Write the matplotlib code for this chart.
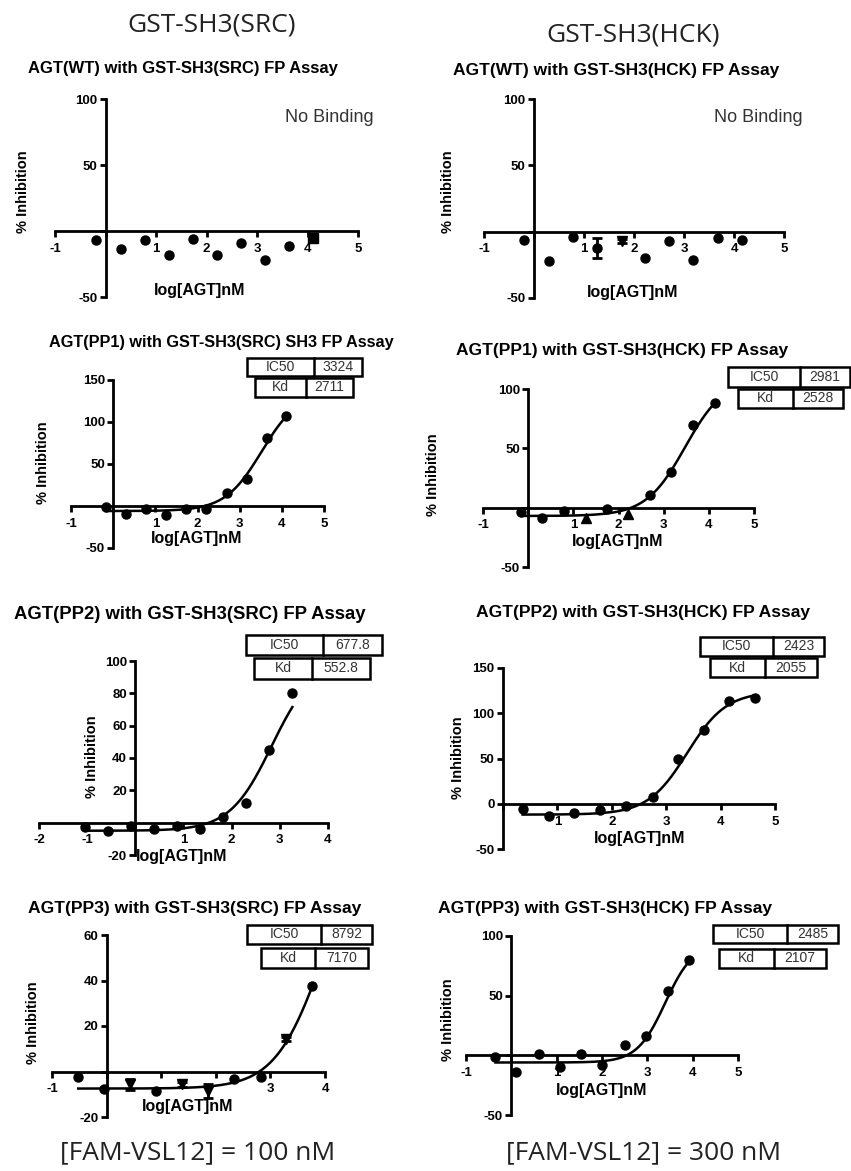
import numpy as np
import matplotlib.pyplot as plt
from matplotlib.patches import Rectangle

plt.rcParams['font.family'] = ['Liberation Sans', 'DejaVu Sans']

W, H = 851, 1171

# x = log[AGT] nM, y = % inhibition ; marker codes per point, error bars per point
wt_src_x = [-0.18, 0.30, 0.78, 1.25, 1.73, 2.21, 2.68, 3.16, 3.64, 4.10]
wt_src_y = [-7, -14, -7, -18, -6, -18, -9, -22, -11.5, -5]
wt_src_mk = 'ooooooooos'
wt_src_err = [0, 0, 0, 0, 0, 0, 0, 0, 0, 2.5]

wt_hck_x = [-0.20, 0.29, 0.78, 1.25, 1.75, 2.21, 2.70, 3.18, 3.67, 4.15]
wt_hck_y = [-6, -22, -4, -12, -7, -20, -7, -21, -5, -6]
wt_hck_mk = 'ooooVooooo'
wt_hck_err = [0, 0, 0, 7.5, 1.5, 0, 0, 0, 0, 0]

pp1_src_x = [-0.17, 0.30, 0.77, 1.25, 1.73, 2.20, 2.69, 3.17, 3.64, 4.10]
pp1_src_y = [-1, -10, -3, -11, -3, -4, 15, 32, 81, 107]
pp1_src_mk = 'oooooooooo'

pp1_hck_x = [-0.15, 0.31, 0.79, 1.27, 1.75, 2.22, 2.69, 3.17, 3.65, 4.13]
pp1_hck_y = [-4, -9, -3, -9, -1.5, -5, 11, 30, 70, 88]
pp1_hck_mk = 'ooo^o^oooo'

pp2_src_x = [-1.04, -0.56, -0.08, 0.39, 0.87, 1.35, 1.82, 2.30, 2.78, 3.26]
pp2_src_y = [-2.7, -5.4, -2.3, -3.7, -2.3, -3.7, 3.5, 12, 45, 80]
pp2_src_mk = 'oooooooooo'

pp2_hck_x = [0.36, 0.84, 1.31, 1.79, 2.27, 2.75, 3.21, 3.69, 4.16, 4.64]
pp2_hck_y = [-6, -13, -10, -7, -3, 7, 49, 82, 113, 117]
pp2_hck_mk = 'oooooooooo'

pp3_src_x = [-0.52, -0.04, 0.43, 0.91, 1.39, 1.86, 2.34, 2.82, 3.29, 3.77]
pp3_src_y = [-2.6, -7.5, -5.6, -8.5, -5.6, -8.5, -3.4, -2.4, 14.3, 37.8]
pp3_src_mk = 'ooVoVVooVo'
pp3_src_err = [0, 0, 2.5, 0, 1.2, 3, 0, 0, 1, 0]

pp3_hck_x = [-0.35, 0.10, 0.60, 1.07, 1.54, 2.01, 2.50, 2.97, 3.46, 3.93]
pp3_hck_y = [-1, -14, 1, -10, 1.5, -8, 8.5, 16, 54, 80]
pp3_hck_mk = 'oooooooooo'

# box values (nM) and fit shape (bottom, top, hill)
ic50_vals = ['3324', '2981', '677.8', '2423', '8792', '2485']
kd_vals = ['2711', '2528', '552.8', '2055', '7170', '2107']
fit_bottom = [-6, -7, -5, -12, -7.5, -6]
fit_top = [136, 109, 100, 124, 105, 94]
fit_hill = [1.0, 1.0, 1.0, 1.2, 1.0, 1.4]

titles = ['AGT(WT) with GST-SH3(SRC) FP Assay',
          'AGT(WT) with GST-SH3(HCK) FP Assay',
          'AGT(PP1) with GST-SH3(SRC) SH3 FP Assay',
          'AGT(PP1) with GST-SH3(HCK) FP Assay',
          'AGT(PP2) with GST-SH3(SRC) FP Assay',
          'AGT(PP2) with GST-SH3(HCK) FP Assay',
          'AGT(PP3) with GST-SH3(SRC) FP Assay',
          'AGT(PP3) with GST-SH3(HCK) FP Assay']
title_sizes = [12, 12.5, 11.7, 12.5, 13.3, 12.6, 12.6, 12.6]

fig = plt.figure(figsize=(W / 100, H / 100), dpi=100)


def fx(x):
    return x / W


def fy(y):
    return 1 - y / H


def make_axes(px, xlim, ylim, xticks, xlabels, yticks, ylabels):
    xl, xr, yt, yb = px
    ax = fig.add_axes([fx(xl), fy(yb), (xr - xl) / W, (yb - yt) / H])
    ax.set_xlim(xlim)
    ax.set_ylim(ylim)
    ax.patch.set_alpha(0)
    ax.spines[['top', 'right']].set_visible(False)
    ax.spines['left'].set_position(('data', 0))
    ax.spines['bottom'].set_position(('data', 0))
    ax.spines[['left', 'bottom']].set_linewidth(2)
    ax.tick_params(direction='out', length=4.5, width=2)
    ax.tick_params(axis='x', pad=4)
    ax.tick_params(axis='y', pad=1.5)
    ax.set_xticks(xticks)
    ax.set_xticklabels(xlabels, fontsize=9.5, fontweight='bold')
    ax.set_yticks(yticks)
    ax.set_yticklabels(ylabels, fontsize=9.5, fontweight='bold')
    return ax


def draw_points(ax, xs, ys, mks, errs=None):
    for i, (x, y, m) in enumerate(zip(xs, ys, mks)):
        mk = {'o': 'o', 's': 's', '^': '^', 'V': 'v'}[m]
        if errs is not None and errs[i] > 0:
            ax.errorbar(x, y, yerr=errs[i], fmt='none', ecolor='black',
                        elinewidth=2, capsize=3.5, capthick=2, clip_on=False, zorder=4)
        ax.plot(x, y, marker=mk, color='black', markersize=6.5, ls='none',
                clip_on=False, zorder=5)


def draw_fit(ax, xs, k):
    xx = np.linspace(xs[0], xs[-1], 200)
    logic = np.log10(float(ic50_vals[k]))
    yy = fit_bottom[k] + (fit_top[k] - fit_bottom[k]) / (1 + 10 ** ((logic - xx) * fit_hill[k]))
    ax.plot(xx, yy, color='black', lw=1.8, clip_on=False, zorder=4)


def draw_box(k, r1, r2):
    for (x0, x1, y0, y1, xd), lab, val in [(r1, 'IC50', ic50_vals[k]), (r2, 'Kd', kd_vals[k])]:
        fig.patches.append(Rectangle((fx(x0), fy(y1)), (x1 - x0) / W, (y1 - y0) / H,
                                     transform=fig.transFigure, fill=False,
                                     edgecolor='black', lw=1.8))
        fig.lines.append(plt.Line2D([fx(xd), fx(xd)], [fy(y0), fy(y1)],
                                    transform=fig.transFigure, color='black', lw=1.8))
        fig.text(fx((x0 + xd) / 2), fy((y0 + y1) / 2), lab, ha='center', va='center',
                 fontsize=10, color='#333333')
        fig.text(fx((xd + x1) / 2), fy((y0 + y1) / 2), val, ha='center', va='center',
                 fontsize=10, color='#333333')


def labels(i, title_xy, ylab_xy, xlab_xy):
    fig.text(fx(title_xy[0]), fy(title_xy[1]), titles[i], ha='center', va='center',
             fontsize=title_sizes[i], fontweight='bold')
    fig.text(fx(ylab_xy[0]), fy(ylab_xy[1]), '% Inhibition', ha='center', va='center',
             rotation=90, fontsize=10.5, fontweight='bold')
    fig.text(fx(xlab_xy[0]), fy(xlab_xy[1]), 'log[AGT]nM', ha='center', va='center',
             fontsize=11.5, fontweight='bold')


xt6 = [-1, 0, 1, 2, 3, 4, 5]
xl6 = ['-1', '', '1', '2', '3', '4', '5']

# row 1 : WT
ax1 = make_axes((55, 358, 99, 297), (-1, 5), (-50, 100), xt6, xl6,
                [-50, 0, 50, 100], ['-50', '', '50', '100'])
draw_points(ax1, wt_src_x, wt_src_y, wt_src_mk, wt_src_err)
labels(0, (183, 68), (23, 192), (200, 290))
fig.text(fx(329), fy(117), 'No Binding', ha='center', va='center', fontsize=13, color='#333333')

ax2 = make_axes((484, 784, 99, 298), (-1, 5), (-50, 100), xt6, xl6,
                [-50, 0, 50, 100], ['-50', '', '50', '100'])
draw_points(ax2, wt_hck_x, wt_hck_y, wt_hck_mk, wt_hck_err)
labels(1, (616, 71), (448, 192), (633, 292))
fig.text(fx(758), fy(118), 'No Binding', ha='center', va='center', fontsize=13, color='#333333')

# row 2 : PP1
ax3 = make_axes((71, 324, 380, 548), (-1, 5), (-50, 150), xt6, xl6,
                [-50, 0, 50, 100, 150], ['-50', '', '50', '100', '150'])
draw_points(ax3, pp1_src_x, pp1_src_y, pp1_src_mk)
draw_fit(ax3, pp1_src_x, 0)
labels(2, (221, 342), (43, 463), (197, 538))
draw_box(0, (247, 362, 358, 376, 314), (255, 353, 378, 397, 306))

ax4 = make_axes((483, 754, 389, 567), (-1, 5), (-50, 100), xt6, xl6,
                [-50, 0, 50, 100], ['-50', '', '50', '100'])
draw_points(ax4, pp1_hck_x, pp1_hck_y, pp1_hck_mk)
draw_fit(ax4, pp1_hck_x, 1)
labels(3, (622, 350), (433, 475), (618, 542))
draw_box(1, (728, 850, 367, 387, 800), (738, 843, 389, 408, 793))

# row 3 : PP2
ax5 = make_axes((39, 328, 661, 855), (-2, 4), (-20, 100),
                [-2, -1, 0, 1, 2, 3, 4], ['-2', '-1', '', '1', '2', '3', '4'],
                [-20, 0, 20, 40, 60, 80, 100], ['-20', '', '20', '40', '60', '80', '100'])
draw_points(ax5, pp2_src_x, pp2_src_y, pp2_src_mk)
draw_fit(ax5, pp2_src_x, 2)
labels(4, (190, 615), (92, 757), (182, 857))
draw_box(2, (246, 382, 635, 655, 323), (254, 370, 658, 679, 312))

ax6 = make_axes((503, 775, 668, 849), (0, 5), (-50, 150),
                [0, 1, 2, 3, 4, 5], ['', '1', '2', '3', '4', '5'],
                [-50, 0, 50, 100, 150], ['-50', '0', '50', '100', '150'])
draw_points(ax6, pp2_hck_x, pp2_hck_y, pp2_hck_mk)
draw_fit(ax6, pp2_hck_x, 3)
labels(5, (643, 613), (458, 758), (640, 838))
draw_box(3, (700, 824, 637, 656, 773), (710, 817, 658, 677, 765))

# row 4 : PP3
ax7 = make_axes((52, 325, 935, 1117), (-1, 4), (-20, 60),
                [-1, 0, 1, 2, 3, 4], ['-1', '', '', '', '3', '4'],
                [-20, 0, 20, 40, 60], ['-20', '', '20', '40', '60'])
draw_points(ax7, pp3_src_x, pp3_src_y, pp3_src_mk, pp3_src_err)
draw_fit(ax7, pp3_src_x, 4)
labels(6, (195, 908), (33, 1023), (188, 1106))
draw_box(4, (247, 372, 925, 944, 321), (261, 368, 948, 968, 315))

ax8 = make_axes((466, 738, 936, 1115), (-1, 5), (-50, 100), xt6, xl6,
                [-50, 0, 50, 100], ['-50', '', '50', '100'])
draw_points(ax8, pp3_hck_x, pp3_hck_y, pp3_hck_mk)
draw_fit(ax8, pp3_hck_x, 5)
labels(7, (605, 908), (448, 1020), (602, 1090))
draw_box(5, (713, 838, 925, 943, 787), (719, 826, 949, 968, 774))

# column headers and footers
hdr = dict(ha='center', va='center', fontsize=19, family=['Open Sans', 'DejaVu Sans'], color='#222222')
fig.text(fx(212), fy(25), 'GST-SH3(SRC)', **hdr)
fig.text(fx(633), fy(35), 'GST-SH3(HCK)', **hdr)
fig.text(fx(198), fy(1153), '[FAM-VSL12] = 100 nM', **hdr)
fig.text(fx(644), fy(1153), '[FAM-VSL12] = 300 nM', **hdr)

fig.savefig('out.png', dpi=100)
